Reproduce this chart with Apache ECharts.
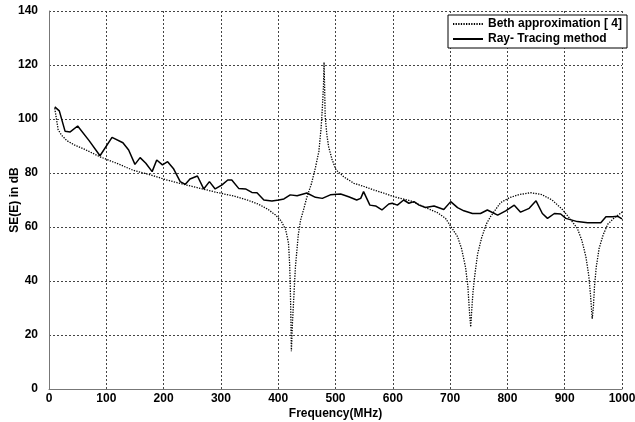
<!DOCTYPE html>
<html>
<head>
<meta charset="utf-8">
<script src="https://cdn.jsdelivr.net/npm/echarts@6/dist/echarts.min.js"></script>
<style>
  html, body { margin: 0; padding: 0; background: #fff; }
  #chart { width: 635px; height: 422px; }
</style>
</head>
<body>
<div id="chart"></div>
<script>
// frequency (MHz), SE (dB)
var bethData = [
  [10,104],[13,100],[16,96],[22,94],[31,92],[45,90.3],[60,89],[89,86],[118,83.6],[147,81],
  [177,79.3],[206,77.4],[235,75.8],[264,74.3],[293,72.8],[322,71.5],[346,70],[365,68.5],
  [381,66.7],[395,64.5],[405,62.3],[413,59],[418,54],[420,46],[421,39],[422,28],[423,14],
  [425,25],[427,33],[430,45],[435,57],[439,62.5],[445,67],[450,71],[458,76],[465,82],
  [471,88],[475,97],[477,104],[479,112],[480,121],[481,112],[482,101],[485,94],[488,89.7],
  [494,85],[501,81.1],[515,78.5],[532,76.2],[550,75],[567,73.7],[585,72.5],[602,71.2],
  [631,69.7],[654,67.5],[678,65.3],[692,63.2],[705,59],[713,56.4],[720,52],[727,45],
  [731,38],[734,28],[736,23],[738,30],[740,36],[743,42],[748,50],[755,56],[763,61],
  [771,64],[788,69],[803,70.8],[820,72],[841,72.7],[860,72],[878,70],[896,66.5],
  [911,62.6],[922,59.5],[930,55],[937,49],[942,42],[945,35],[948,26],[950,30],[952,38],
  [955,45],[960,52],[967,57],[975,61],[987,63.5],[1000,65.5]
];
var rayData = [
  [10,104.5],[18,103],[28,95.5],[37,95.2],[50,97.4],[70,92],[89,86.4],[110,93.2],[129,91.2],
  [139,88.5],[150,83.2],[159,85.7],[169,83.6],[180,80.5],[188,84.8],[198,83],[207,84.2],
  [217,81.7],[229,76.8],[238,75.8],[246,77.8],[259,78.9],[270,74.1],[280,76.8],[290,74.1],
  [302,75.6],[312,77.4],[319,77.4],[331,74.3],[343,74.1],[354,72.8],[363,72.7],[375,70],
  [389,69.6],[401,70],[410,70.4],[421,71.9],[433,71.6],[450,72.6],[465,71],[477,70.6],
  [491,71.9],[509,72.2],[523,71.2],[537,70],[544,70.6],[549,73.1],[560,68.1],[570,67.8],
  [581,66.3],[593,68.5],[599,68.8],[608,68.1],[619,70],[628,68.8],[637,69.4],[646,68.1],
  [657,67.2],[672,67.8],[689,66.5],[701,69.4],[713,67.2],[724,66],[739,65],[753,65],
  [765,66.3],[783,64.4],[797,66],[812,68.1],[823,65.5],[838,66.9],[850,69.7],[861,65],
  [870,63.2],[882,65],[893,64.8],[902,63.2],[922,62],[940,61.6],[963,61.6],[972,63.8],
  [984,63.8],[992,64],[1000,63]
];
var seriesNames = ['Beth approximation [ 4]', 'Ray- Tracing method'];

var font = { fontFamily: 'Liberation Sans, Arial', fontWeight: 'bold', fontSize: 12, color: '#000' };
var gridLine = { show: true, lineStyle: { color: '#444', type: [2, 2], width: 1 } };

var myChart = echarts.init(document.getElementById('chart'));
var option = {
    animation: false,
    backgroundColor: '#fff',
    grid: { left: 49, right: 13, top: 11, bottom: 33, containLabel: false, outerBoundsMode: 'none' },
    legend: {
        left: 448, top: 15,
        orient: 'vertical',
        backgroundColor: '#fff',
        borderColor: '#000', borderWidth: 1, borderRadius: 0,
        padding: [3, 5, 3, 4],
        itemGap: 3, itemWidth: 30, itemHeight: 12,
        itemStyle: { opacity: 0, borderWidth: 0 },
        textStyle: font,
        data: seriesNames
    },
    xAxis: {
        type: 'value', min: 0, max: 1000, interval: 100,
        name: 'Frequency(MHz)', nameLocation: 'middle', nameGap: 19, nameMoveOverlap: false,
        nameTextStyle: font,
        axisLine: { show: true, onZero: false, lineStyle: { color: '#777', width: 1 } },
        axisTick: { show: false },
        axisLabel: Object.assign({ margin: 4, formatter: function (v) { return String(v); } }, font),
        splitLine: gridLine
    },
    yAxis: {
        type: 'value', min: 0, max: 140, interval: 20,
        name: 'SE(E) in dB', nameLocation: 'middle', nameGap: 28, nameMoveOverlap: false,
        nameTextStyle: font,
        axisLine: { show: true, lineStyle: { color: '#777', width: 1 } },
        axisTick: { show: false },
        axisLabel: Object.assign({ margin: 11 }, font),
        splitLine: gridLine
    },
    series: [
        {
            name: seriesNames[0], type: 'line', data: bethData,
            symbol: 'none', smooth: false,
            lineStyle: { color: '#000', width: 1.3, type: [1.3, 1.3] },
            itemStyle: { color: '#000' }
        },
        {
            name: seriesNames[1], type: 'line', data: rayData,
            symbol: 'none', smooth: false,
            lineStyle: { color: '#000', width: 1.5 },
            itemStyle: { color: '#000' }
        }
    ]
};
myChart.setOption(option);
</script>
</body>
</html>
